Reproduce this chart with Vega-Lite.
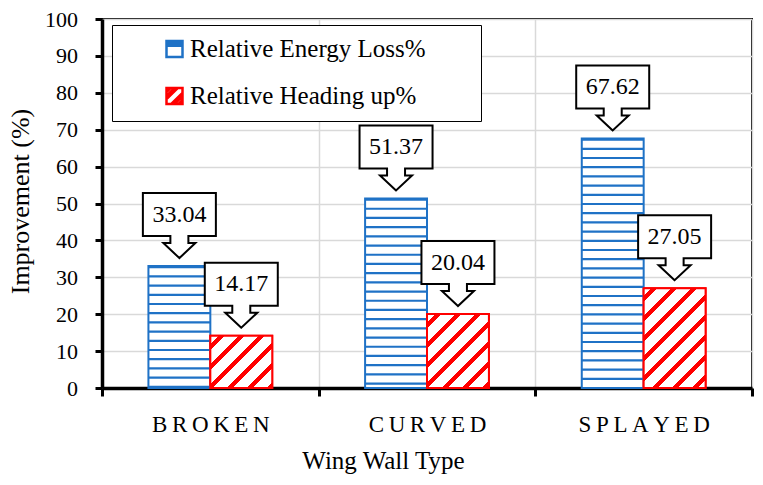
{
  "$schema": "https://vega.github.io/schema/vega-lite/v6.json",
  "width": 650,
  "height": 369,
  "autosize": "none",
  "padding": {"left": 102, "top": 19, "right": 11, "bottom": 97},
  "background": "white",
  "config": {
    "font": "Liberation Serif",
    "view": {"stroke": "black", "strokeWidth": 2}
  },
  "data": {
    "values": [
      {"type": "BROKEN", "series": "Relative Energy Loss%", "value": 33.04},
      {"type": "BROKEN", "series": "Relative Heading up%", "value": 14.17},
      {"type": "CURVED", "series": "Relative Energy Loss%", "value": 51.37},
      {"type": "CURVED", "series": "Relative Heading up%", "value": 20.04},
      {"type": "SPLAYED", "series": "Relative Energy Loss%", "value": 67.62},
      {"type": "SPLAYED", "series": "Relative Heading up%", "value": 27.05}
    ]
  },
  "encoding": {
    "x": {
      "field": "type",
      "type": "nominal",
      "sort": ["BROKEN", "CURVED", "SPLAYED"],
      "scale": {"paddingInner": 0, "paddingOuter": 0},
      "axis": {
        "title": "Wing Wall Type",
        "titleFont": "Liberation Serif",
        "titleFontSize": 25,
        "titleFontWeight": "normal",
        "titleColor": "black",
        "titleX": 281,
        "titleY": 80,
        "titleAlign": "center",
        "titleBaseline": "alphabetic",
        "labelAngle": 0,
        "labelFont": "Liberation Serif",
        "labelFontSize": 23,
        "labelColor": "black",
        "labelBaseline": "alphabetic",
        "labelPadding": 35.7,
        "labelExpr": "join(split(datum.label, ''), '\u2009')",
        "domainColor": "black",
        "domainWidth": 3.5,
        "tickColor": "black",
        "tickWidth": 3,
        "tickSize": 8,
        "tickBand": "extent",
        "grid": true,
        "gridColor": "#d9d9d9",
        "gridWidth": 1.5
      }
    },
    "xOffset": {
      "field": "series",
      "type": "nominal",
      "scale": {"paddingInner": 0, "paddingOuter": 0.75}
    },
    "y": {
      "field": "value",
      "type": "quantitative",
      "scale": {"domain": [0, 100], "nice": false},
      "axis": {
        "title": "Improvement (%)",
        "titleFont": "Liberation Serif",
        "titleFontSize": 26,
        "titleFontWeight": "normal",
        "titleColor": "black",
        "titleX": -74,
        "titleY": 182,
        "titleAlign": "center",
        "titleBaseline": "alphabetic",
        "tickCount": 10,
        "labelFont": "Liberation Serif",
        "labelFontSize": 22,
        "labelColor": "black",
        "labelPadding": 17.5,
        "domainColor": "black",
        "domainWidth": 3.5,
        "tickColor": "black",
        "tickWidth": 3,
        "tickSize": 7,
        "grid": true,
        "gridColor": "#d9d9d9",
        "gridWidth": 1.5
      }
    }
  },
  "layer": [
    {
      "mark": {"type": "bar", "fill": "white", "strokeWidth": 2},
      "encoding": {
        "stroke": {
          "condition": {"test": "datum.series === 'Relative Energy Loss%'", "value": "#1F72C6"},
          "value": "#FF0000"
        }
      }
    },
    {
      "transform": [{"filter": "datum.series === 'Relative Energy Loss%'"}],
      "mark": {"type": "rule", "color": "#1F72C6", "strokeWidth": 61.9, "strokeDash": [2.2, 7]},
      "encoding": {
        "y2": {"datum": 0}
      }
    },
    {
      "transform": [{"filter": "datum.series === 'Relative Heading up%' && datum.type === 'BROKEN'"}],
      "mark": {
        "type": "bar",
        "stroke": "#FF0000",
        "strokeWidth": 2,
        "fill": {
          "gradient": "linear", "x1": 0, "y1": 0, "x2": 1.0766, "y2": 0.9093,
          "stops": [
            {"offset": 0, "color": "white"},
            {"offset": 0.0701, "color": "white"}, {"offset": 0.0701, "color": "#FF0000"},
            {"offset": 0.1226, "color": "#FF0000"}, {"offset": 0.1226, "color": "white"},
            {"offset": 0.2452, "color": "white"}, {"offset": 0.2452, "color": "#FF0000"},
            {"offset": 0.2977, "color": "#FF0000"}, {"offset": 0.2977, "color": "white"},
            {"offset": 0.4204, "color": "white"}, {"offset": 0.4204, "color": "#FF0000"},
            {"offset": 0.4729, "color": "#FF0000"}, {"offset": 0.4729, "color": "white"},
            {"offset": 0.5955, "color": "white"}, {"offset": 0.5955, "color": "#FF0000"},
            {"offset": 0.648, "color": "#FF0000"}, {"offset": 0.648, "color": "white"},
            {"offset": 0.7706, "color": "white"}, {"offset": 0.7706, "color": "#FF0000"},
            {"offset": 0.8232, "color": "#FF0000"}, {"offset": 0.8232, "color": "white"},
            {"offset": 0.9458, "color": "white"}, {"offset": 0.9458, "color": "#FF0000"},
            {"offset": 0.9983, "color": "#FF0000"}, {"offset": 0.9983, "color": "white"},
            {"offset": 1, "color": "white"}
          ]
        }
      }
    },
    {
      "transform": [{"filter": "datum.series === 'Relative Heading up%' && datum.type === 'CURVED'"}],
      "mark": {
        "type": "bar",
        "stroke": "#FF0000",
        "strokeWidth": 2,
        "fill": {
          "gradient": "linear", "x1": 0, "y1": 0, "x2": 0.9042, "y2": 1.0802,
          "stops": [
            {"offset": 0, "color": "white"},
            {"offset": 0.0589, "color": "white"}, {"offset": 0.0589, "color": "#FF0000"},
            {"offset": 0.1031, "color": "#FF0000"}, {"offset": 0.1031, "color": "white"},
            {"offset": 0.2061, "color": "white"}, {"offset": 0.2061, "color": "#FF0000"},
            {"offset": 0.2503, "color": "#FF0000"}, {"offset": 0.2503, "color": "white"},
            {"offset": 0.3533, "color": "white"}, {"offset": 0.3533, "color": "#FF0000"},
            {"offset": 0.3975, "color": "#FF0000"}, {"offset": 0.3975, "color": "white"},
            {"offset": 0.5005, "color": "white"}, {"offset": 0.5005, "color": "#FF0000"},
            {"offset": 0.5447, "color": "#FF0000"}, {"offset": 0.5447, "color": "white"},
            {"offset": 0.6478, "color": "white"}, {"offset": 0.6478, "color": "#FF0000"},
            {"offset": 0.6919, "color": "#FF0000"}, {"offset": 0.6919, "color": "white"},
            {"offset": 0.795, "color": "white"}, {"offset": 0.795, "color": "#FF0000"},
            {"offset": 0.8391, "color": "#FF0000"}, {"offset": 0.8391, "color": "white"},
            {"offset": 0.9422, "color": "white"}, {"offset": 0.9422, "color": "#FF0000"},
            {"offset": 0.9864, "color": "#FF0000"}, {"offset": 0.9864, "color": "white"},
            {"offset": 1, "color": "white"}
          ]
        }
      }
    },
    {
      "transform": [{"filter": "datum.series === 'Relative Heading up%' && datum.type === 'SPLAYED'"}],
      "mark": {
        "type": "bar",
        "stroke": "#FF0000",
        "strokeWidth": 2,
        "fill": {
          "gradient": "linear", "x1": 0, "y1": 0, "x2": 0.7257, "y2": 1.1701,
          "stops": [
            {"offset": 0, "color": "white"},
            {"offset": 0.0495, "color": "white"}, {"offset": 0.0495, "color": "#FF0000"},
            {"offset": 0.0866, "color": "#FF0000"}, {"offset": 0.0866, "color": "white"},
            {"offset": 0.1731, "color": "white"}, {"offset": 0.1731, "color": "#FF0000"},
            {"offset": 0.2102, "color": "#FF0000"}, {"offset": 0.2102, "color": "white"},
            {"offset": 0.2968, "color": "white"}, {"offset": 0.2968, "color": "#FF0000"},
            {"offset": 0.3339, "color": "#FF0000"}, {"offset": 0.3339, "color": "white"},
            {"offset": 0.4205, "color": "white"}, {"offset": 0.4205, "color": "#FF0000"},
            {"offset": 0.4576, "color": "#FF0000"}, {"offset": 0.4576, "color": "white"},
            {"offset": 0.5441, "color": "white"}, {"offset": 0.5441, "color": "#FF0000"},
            {"offset": 0.5812, "color": "#FF0000"}, {"offset": 0.5812, "color": "white"},
            {"offset": 0.6678, "color": "white"}, {"offset": 0.6678, "color": "#FF0000"},
            {"offset": 0.7049, "color": "#FF0000"}, {"offset": 0.7049, "color": "white"},
            {"offset": 0.7915, "color": "white"}, {"offset": 0.7915, "color": "#FF0000"},
            {"offset": 0.8286, "color": "#FF0000"}, {"offset": 0.8286, "color": "white"},
            {"offset": 0.9152, "color": "white"}, {"offset": 0.9152, "color": "#FF0000"},
            {"offset": 0.9523, "color": "#FF0000"}, {"offset": 0.9523, "color": "white"},
            {"offset": 1, "color": "white"}
          ]
        }
      }
    },
    {
      "mark": {
        "type": "point",
        "shape": "M0,-8 L-16,-23 L-9,-23 L-9,-30 L-36.5,-30 L-36.5,-73 L36.5,-73 L36.5,-30 L9,-30 L9,-23 L16,-23 Z",
        "size": 4,
        "filled": true,
        "fill": "white",
        "stroke": "black",
        "strokeWidth": 2,
        "opacity": 1
      }
    },
    {
      "mark": {
        "type": "text",
        "font": "Liberation Serif",
        "fontSize": 24,
        "color": "black",
        "baseline": "middle",
        "align": "center",
        "yOffset": -51.5
      },
      "encoding": {
        "text": {"field": "value", "type": "quantitative", "format": ".2f"}
      }
    },
    {
      "mark": {"type": "point", "opacity": 0, "filled": false, "strokeWidth": 2.5, "size": 256},
      "encoding": {
        "stroke": {
          "field": "series",
          "type": "nominal",
          "scale": {
            "domain": ["Relative Energy Loss%", "Relative Heading up%"],
            "range": ["#1F72C6", "#FF0000"]
          },
          "legend": {
            "orient": "none",
            "legendX": 10,
            "legendY": 6,
            "title": null,
            "direction": "vertical",
            "symbolSize": 256,
            "symbolStrokeWidth": 2.5,
            "symbolOpacity": 1,
            "labelFont": "Liberation Serif",
            "labelFontSize": 25,
            "labelColor": "black",
            "labelLimit": 500,
            "padding": 11.5,
            "rowPadding": 20,
            "strokeColor": "black",
            "fillColor": "white",
            "symbolOffset": 38.5,
            "labelOffset": 3,
            "labelExpr": "datum.label + '\u00a0\u00a0\u00a0\u00a0\u00a0\u00a0\u00a0\u200b'"
          }
        },
        "shape": {
          "field": "series",
          "type": "nominal",
          "scale": {
            "domain": ["Relative Energy Loss%", "Relative Heading up%"],
            "range": [
              "M-1,-1H1V1H-1Z M-1,-0.7H1 M-1,-0.42H1",
              "M-1,-1H1V1H-1Z M-1,-0.5L-0.5,-1 M-1,0L0,-1 M-1,0.4L0.4,-1 M-0.4,1L1,-0.4 M0,1L1,0 M0.5,1L1,0.5"
            ]
          },
          "legend": {
            "orient": "none",
            "legendX": 10,
            "legendY": 6,
            "title": null,
            "direction": "vertical",
            "symbolSize": 256,
            "symbolStrokeWidth": 2.5,
            "symbolOpacity": 1,
            "labelFont": "Liberation Serif",
            "labelFontSize": 25,
            "labelColor": "black",
            "labelLimit": 500,
            "padding": 11.5,
            "rowPadding": 20,
            "strokeColor": "black",
            "fillColor": "white",
            "symbolOffset": 38.5,
            "labelOffset": 3,
            "labelExpr": "datum.label + '\u00a0\u00a0\u00a0\u00a0\u00a0\u00a0\u00a0\u200b'"
          }
        }
      }
    }
  ]
}
